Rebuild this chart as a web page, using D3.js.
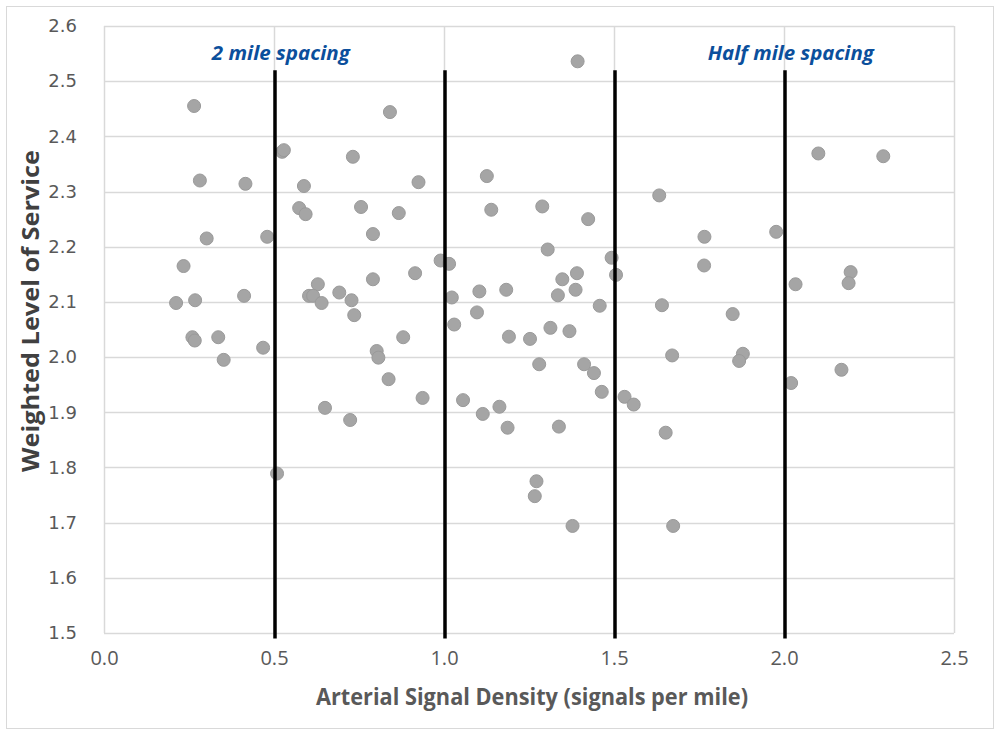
<!DOCTYPE html>
<html>
<head>
<meta charset="utf-8">
<script src="https://cdn.jsdelivr.net/npm/d3@7"></script>
<style>
  body { margin: 0; background: #fff; }
  svg { display: block; }
</style>
</head>
<body>
<div id="chart"></div>
<script>
// Scatter of signal density vs weighted LOS, with spacing markers

const signalDensity = [
  0.265, 0.524, 0.529, 0.282, 0.416, 0.588, 0.574, 0.593, 0.302, 0.480,
  0.234, 0.212, 0.268, 0.412, 0.629, 0.603, 0.615, 0.640, 0.692, 0.728,
  0.736, 0.260, 0.267, 0.336, 0.468, 0.352, 0.650, 0.724, 0.509, 1.393,
  0.841, 0.732, 0.925, 1.126, 0.756, 0.867, 1.139, 1.289, 0.791, 1.305,
  0.990, 1.015, 0.915, 0.791, 1.023, 1.104, 1.183, 1.348, 1.391, 1.335,
  1.387, 1.097, 1.030, 0.880, 1.191, 1.253, 1.313, 1.369, 0.802, 0.807,
  1.280, 1.412, 0.837, 0.937, 1.056, 1.163, 1.114, 1.187, 1.338, 1.272,
  1.267, 1.378, 1.633, 1.424, 1.766, 1.977, 1.765, 1.493, 1.506, 2.034,
  1.458, 1.641, 1.849, 1.671, 1.879, 1.868, 1.441, 2.021, 1.464, 1.531,
  1.558, 1.652, 1.674, 2.101, 2.292, 2.196, 2.190, 2.169
]
const weightedLOS = [
  2.455, 2.372, 2.375, 2.320, 2.314, 2.310, 2.270, 2.259, 2.215, 2.218,
  2.165, 2.098, 2.103, 2.111, 2.132, 2.111, 2.111, 2.098, 2.117, 2.103,
  2.076, 2.036, 2.030, 2.036, 2.017, 1.995, 1.908, 1.886, 1.789, 2.536,
  2.444, 2.363, 2.317, 2.328, 2.272, 2.261, 2.267, 2.273, 2.223, 2.195,
  2.175, 2.169, 2.152, 2.141, 2.108, 2.119, 2.122, 2.141, 2.152, 2.112,
  2.122, 2.081, 2.059, 2.036, 2.037, 2.033, 2.053, 2.047, 2.011, 1.999,
  1.987, 1.987, 1.960, 1.926, 1.922, 1.910, 1.897, 1.872, 1.874, 1.775,
  1.748, 1.694, 2.293, 2.250, 2.218, 2.227, 2.166, 2.180, 2.149, 2.132,
  2.093, 2.094, 2.078, 2.003, 2.006, 1.993, 1.971, 1.953, 1.937, 1.928,
  1.914, 1.863, 1.694, 2.369, 2.364, 2.154, 2.134, 1.977
]

const xTicks = [0.0, 0.5, 1.0, 1.5, 2.0, 2.5]
const yTicks = [1.5, 1.6, 1.7, 1.8, 1.9, 2.0, 2.1, 2.2, 2.3, 2.4, 2.5, 2.6]

// black vertical marker lines (x position, top value, bottom value)
const markerX = [0.5, 1.0, 1.5, 2.0]
const markerTop = 2.52
const markerBottom = 1.49

const annotations = [
  {text: "2 mile spacing", x: 0.52, y: 2.538, len: 138},
  {text: "Half mile spacing", x: 2.02, y: 2.538, len: 166}
]

const WIDTH = 1000
const HEIGHT = 735
const MARGIN = {TOP: 26, RIGHT: 46, BOTTOM: 102, LEFT: 104}
const INNER_W = WIDTH - MARGIN.LEFT - MARGIN.RIGHT
const INNER_H = HEIGHT - MARGIN.TOP - MARGIN.BOTTOM

const GRID = "#d9d9d9"
const LABEL = "#595959"

const svg = d3.select("#chart")
  .append("svg")
    .attr("width", WIDTH)
    .attr("height", HEIGHT)

// chart border
svg.append("rect")
  .attr("x", 6.5).attr("y", 6.5)
  .attr("width", WIDTH - 13).attr("height", HEIGHT - 13)
  .attr("fill", "none")
  .attr("stroke", GRID)

const g = svg.append("g")
  .attr("transform", "translate(" + MARGIN.LEFT + "," + MARGIN.TOP + ")")

const x = d3.scaleLinear().domain([0, 2.5]).range([0, INNER_W])
const y = d3.scaleLinear().domain([1.5, 2.6]).range([INNER_H, 0])

// gridlines
g.selectAll(".hgrid")
  .data(yTicks)
  .enter().append("line")
    .attr("x1", 0).attr("x2", INNER_W)
    .attr("y1", d => Math.round(y(d)) + 0.5)
    .attr("y2", d => Math.round(y(d)) + 0.5)
    .attr("stroke", GRID).attr("stroke-width", 1.5)

g.selectAll(".vgrid")
  .data(xTicks)
  .enter().append("line")
    .attr("y1", 0).attr("y2", INNER_H)
    .attr("x1", d => Math.round(x(d)) + 0.5)
    .attr("x2", d => Math.round(x(d)) + 0.5)
    .attr("stroke", GRID).attr("stroke-width", 1.5)

// tick labels
const xAxis = g.append("g")
  .attr("transform", "translate(0," + INNER_H + ")")
  .call(d3.axisBottom(x).tickValues(xTicks).tickFormat(d3.format(".1f"))
    .tickSize(0).tickPadding(18))
xAxis.select(".domain").remove()
xAxis.selectAll("text")
  .attr("fill", LABEL)
  .style("font-family", "'Liberation Sans Narrow', 'Open Sans', sans-serif")
  .style("font-size", "20px")

const yAxis = g.append("g")
  .call(d3.axisLeft(y).tickValues(yTicks).tickFormat(d3.format(".1f"))
    .tickSize(0).tickPadding(27))
yAxis.select(".domain").remove()
yAxis.selectAll("text")
  .attr("fill", LABEL)
  .style("font-family", "'DejaVu Sans', sans-serif")
  .style("font-size", "18px")

// points
g.selectAll(".dot")
  .data(signalDensity)
  .enter().append("circle")
    .attr("cx", d => x(d))
    .attr("cy", (d, i) => y(weightedLOS[i]))
    .attr("r", 6.5)
    .attr("fill", "#a5a5a5")
    .attr("stroke", "#9a9a9a")
    .attr("stroke-width", 1)

// spacing marker lines
g.selectAll(".marker")
  .data(markerX)
  .enter().append("line")
    .attr("x1", d => x(d) + 1).attr("x2", d => x(d) + 1)
    .attr("y1", y(markerTop)).attr("y2", y(markerBottom))
    .attr("stroke", "#000").attr("stroke-width", 3.5)

// annotations
g.selectAll(".note")
  .data(annotations)
  .enter().append("text")
    .attr("x", d => x(d.x))
    .attr("y", d => y(d.y))
    .attr("text-anchor", "middle")
    .attr("fill", "#0b4f9c")
    .attr("textLength", d => d.len)
    .attr("lengthAdjust", "spacingAndGlyphs")
    .style("font-family", "'Open Sans', sans-serif")
    .style("font-weight", "bold")
    .style("font-style", "italic")
    .style("font-size", "20px")
    .text(d => d.text)

// axis titles
svg.append("text")
  .attr("x", 532).attr("y", 705)
  .attr("text-anchor", "middle")
  .attr("fill", LABEL)
  .attr("textLength", 432)
  .attr("lengthAdjust", "spacingAndGlyphs")
  .style("font-family", "'Open Sans', sans-serif")
  .style("font-weight", "bold")
  .style("font-size", "23px")
  .text("Arterial Signal Density (signals per mile)")

svg.append("text")
  .attr("transform", "translate(39,311) rotate(-90)")
  .attr("text-anchor", "middle")
  .attr("fill", "#404040")
  .attr("textLength", 322)
  .attr("lengthAdjust", "spacingAndGlyphs")
  .style("font-family", "'Open Sans', sans-serif")
  .style("font-weight", "bold")
  .style("font-size", "23px")
  .text("Weighted Level of Service")
</script>
</body>
</html>
